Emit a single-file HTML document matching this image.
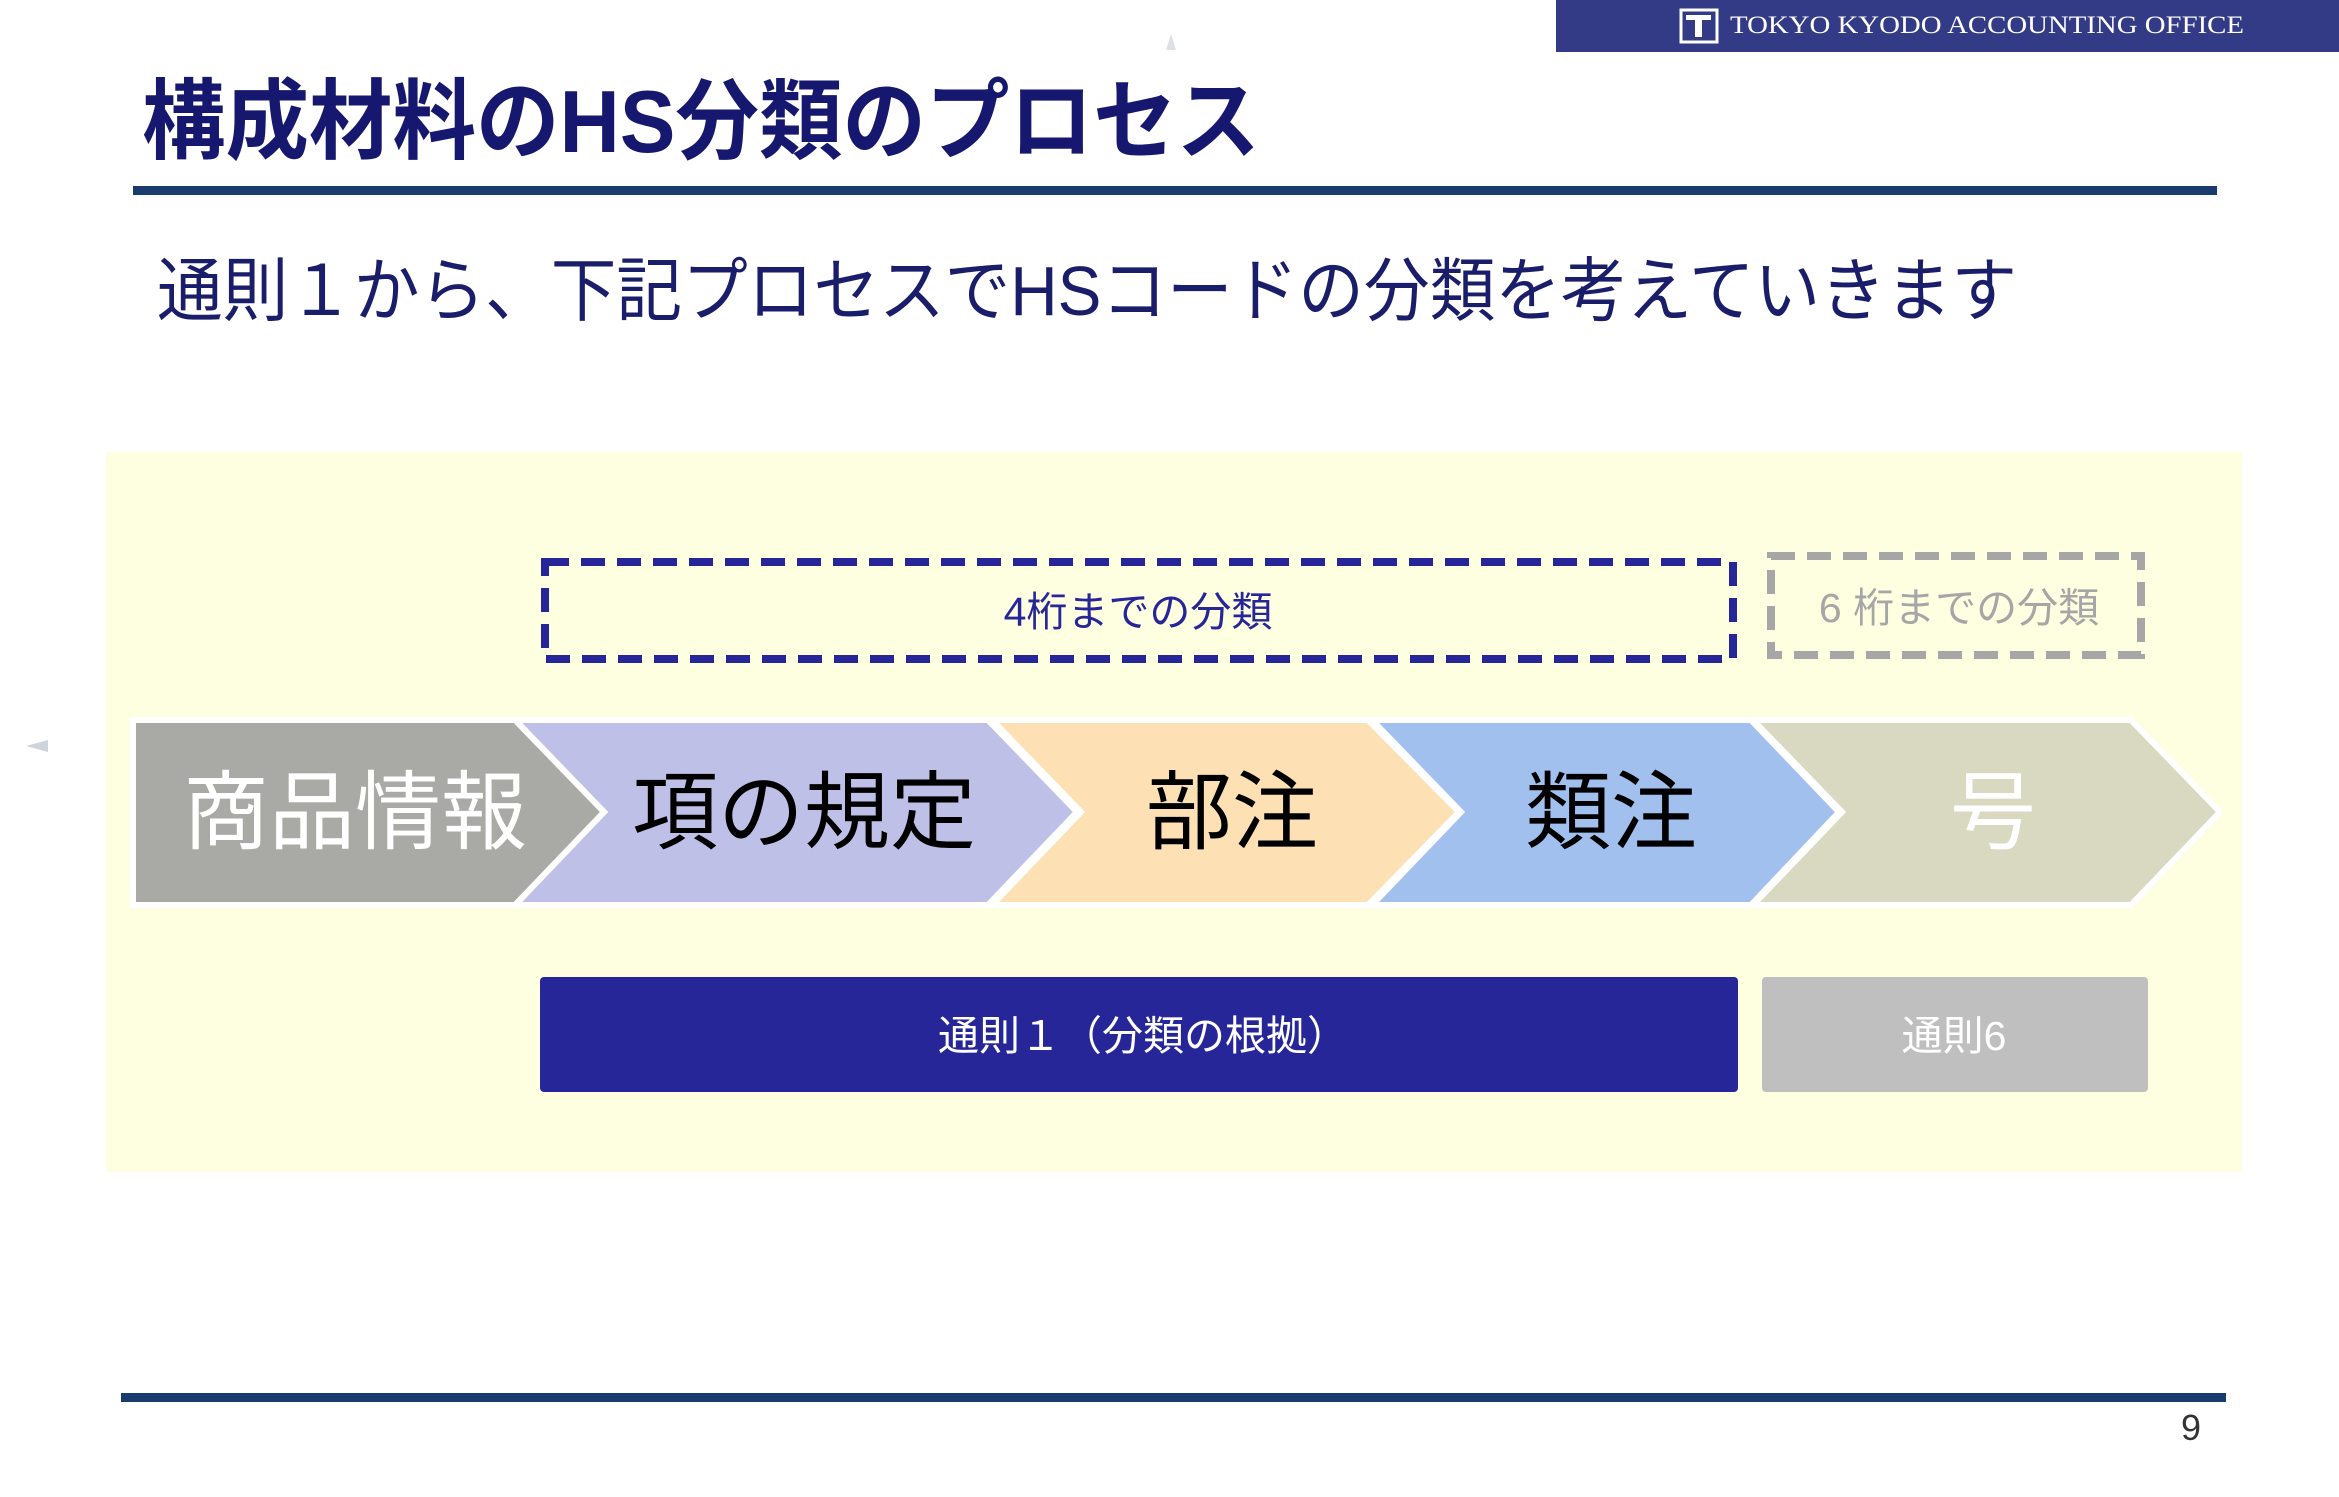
<!DOCTYPE html>
<html><head><meta charset="utf-8"><style>
html,body{margin:0;padding:0;background:#fff;}
svg{display:block;}
text{font-family:"Liberation Sans","Noto Sans CJK JP",sans-serif;}
</style></head><body>
<svg width="2339" height="1497" viewBox="0 0 2339 1497" xmlns="http://www.w3.org/2000/svg">
<rect x="1556" y="0" width="783" height="52" fill="#343b86"/>
<rect x="1681" y="10" width="36" height="32" fill="none" stroke="#fff" stroke-width="3"/>
<path d="M1686 15 H1711 V20 H1702 V37 H1695 V20 H1686 Z" fill="#fff"/>
<text x="1730" y="33" font-size="25" fill="#fff" style="font-family:'Liberation Serif',serif" textLength="514" lengthAdjust="spacingAndGlyphs">TOKYO KYODO ACCOUNTING OFFICE</text>
<path d="M1166 50 L1171 34 L1176 50 Z" fill="#dde0e6"/>
<path d="M48 740 L26 746 L48 752 Z" fill="#cfd3dc"/>
<text x="142" y="152" font-size="88" font-weight="bold" fill="#15186e" textLength="1118" lengthAdjust="spacingAndGlyphs">構成材料のHS分類のプロセス</text>
<rect x="133" y="186" width="2084" height="9" fill="#1a3b6e"/>
<text x="157" y="315" font-size="70" fill="#1a1d6a" textLength="1860" lengthAdjust="spacingAndGlyphs">通則１から、下記プロセスでHSコードの分類を考えていきます</text>
<rect x="106" y="452" width="2136" height="720" fill="#fefee0"/>
<rect x="545" y="562" width="1188" height="97" fill="none" stroke="#262699" stroke-width="8" stroke-dasharray="24 12"/>
<text x="1138" y="626" font-size="41" fill="#262699" text-anchor="middle">4桁までの分類</text>
<rect x="1771" y="556" width="370" height="99" fill="none" stroke="#a6a6a6" stroke-width="8" stroke-dasharray="24 12"/>
<text x="1959" y="622" font-size="41" fill="#a6a6a6" text-anchor="middle">6 桁までの分類</text>
<g stroke="#fff" stroke-width="6" stroke-linejoin="miter">
<path d="M1753 720 H2131 L2220 812 L2131 905 H1753 L1842 812 Z" fill="#d9d9c1"/>
<path d="M1372 720 H1751 L1839 812 L1751 905 H1372 L1461 812 Z" fill="#a2c0ee"/>
<path d="M992 720 H1368 L1459 812 L1368 905 H992 L1081 812 Z" fill="#fde0b3"/>
<path d="M515 720 H988 L1077 812 L988 905 H515 L604 812 Z" fill="#bfc0e8"/>
<path d="M133 720 H515 L604 812 L515 905 H133 Z" fill="#a9aaa5"/>
</g>
<g font-size="86" text-anchor="middle">
<text x="355" y="842" fill="#fff">商品情報</text>
<text x="804" y="842" fill="#000">項の規定</text>
<text x="1232" y="842" fill="#000">部注</text>
<text x="1611" y="842" fill="#000">類注</text>
<text x="1993" y="842" fill="#fff">号</text>
</g>
<rect x="540" y="977" width="1198" height="115" rx="4" fill="#262699"/>
<text x="1143" y="1050" font-size="41" fill="#fff" text-anchor="middle">通則１（分類の根拠）</text>
<rect x="1762" y="977" width="386" height="115" rx="4" fill="#bfbfbf"/>
<text x="1954" y="1050" font-size="41" fill="#fff" text-anchor="middle">通則6</text>
<rect x="121" y="1393" width="2105" height="9" fill="#1a3b6e"/>
<text x="2191" y="1440" font-size="36" fill="#333" text-anchor="middle">9</text>
</svg>
</body></html>
